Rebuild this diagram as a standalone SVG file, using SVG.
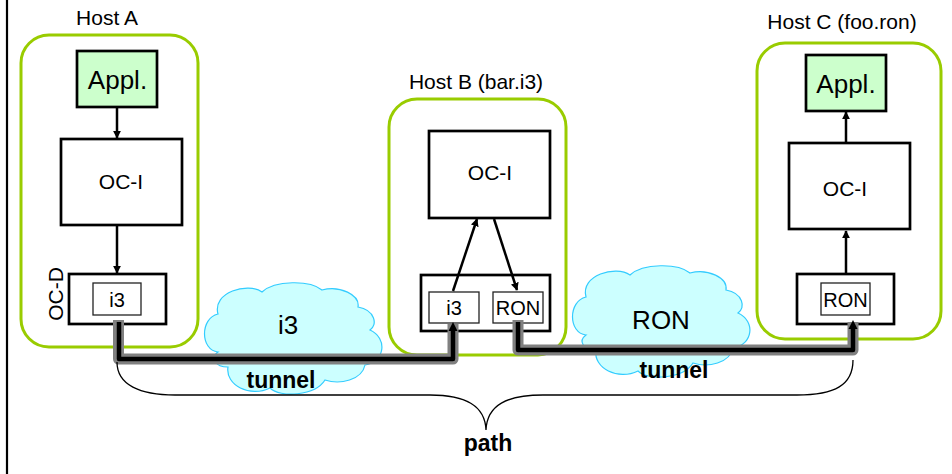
<svg xmlns="http://www.w3.org/2000/svg" width="952" height="474" viewBox="0 0 952 474">
<style>
text{font-family:"Liberation Sans",Arial,sans-serif;fill:#000}
.host{fill:none;stroke:#99cc00;stroke-width:3}
.box{fill:#fff;stroke:#000;stroke-width:2.7}
.app{fill:#ccffcc;stroke:#000;stroke-width:2.7}
.inner{fill:#fff;stroke:#222;stroke-width:1.3}
.cloud{fill:#ccffff;stroke:#33ccff;stroke-width:1.2}
.arrow{fill:none;stroke:#000;stroke-width:2.5}
.tun-o{fill:none;stroke:#808080;stroke-width:11;stroke-linejoin:round}
.tun-i{fill:none;stroke:#000;stroke-width:4.5;stroke-linejoin:round}
.lbl{font-size:21px;text-anchor:middle}
.sm{font-size:20px;text-anchor:middle}
.big{font-size:26px;text-anchor:middle}
.bold{font-size:23px;font-weight:bold;text-anchor:middle}
</style>
<defs>
<marker id="ah" viewBox="0 0 10 10" refX="9" refY="5" markerWidth="3.2" markerHeight="3.2" orient="auto" markerUnits="strokeWidth">
<path d="M0,0 L10,5 L0,10 Z" fill="#000"/>
</marker>
<path id="cloudshape" d="M218,352 C200,350 200,318 218,314 C212,292 248,282 262,292 C275,280 310,280 322,290 C340,285 360,295 358,307 C375,310 378,325 370,330 C388,338 385,362 365,365 C362,380 340,385 325,380 C315,396 280,398 270,388 C250,398 225,385 228,367 C215,367 210,358 218,352 Z"/>
</defs>
<line x1="7" y1="0" x2="7" y2="474" stroke="#000" stroke-width="2.2"/>

<g id="hostA">
<text x="107" y="25" class="lbl">Host A</text>
<rect x="21" y="35" width="177" height="312" rx="28" class="host"/>
</g>
<g id="hostB">
<text x="476" y="89" class="lbl">Host B (bar.i3)</text>
<rect x="389" y="99" width="177" height="256" rx="28" class="host"/>
</g>
<g id="hostC">
<text x="842" y="29" class="lbl">Host C (foo.ron)</text>
<rect x="757" y="43" width="184" height="296" rx="28" class="host"/>
</g>

<g id="applA">
<rect x="77" y="51" width="80" height="56" class="app"/>
<text x="117.5" y="89" class="big">Appl.</text>
</g>
<g id="ociA">
<rect x="61" y="139" width="121" height="86" class="box"/>
<text x="121" y="189" class="lbl">OC-I</text>
</g>
<g id="ocdA">
<rect x="69" y="274" width="97" height="50" class="box"/>
<rect x="93" y="283" width="48" height="32" class="inner"/>
<text x="117" y="307" class="sm">i3</text>
<text transform="translate(63,294) rotate(-90)" x="0" y="0" class="lbl">OC-D</text>
</g>

<g id="ociB">
<rect x="429" y="131" width="121" height="87" class="box"/>
<text x="490" y="180" class="lbl">OC-I</text>
</g>
<g id="ocdB">
<rect x="421" y="275" width="129" height="56" class="box"/>
<rect x="429" y="292" width="50" height="31" class="inner"/>
<text x="454" y="315" class="sm">i3</text>
<rect x="493" y="292" width="50" height="31" class="inner"/>
<text x="518" y="315" class="sm">RON</text>
</g>

<g id="applC">
<rect x="806" y="55" width="80" height="56" class="app"/>
<text x="846" y="93" class="big">Appl.</text>
</g>
<g id="ociC">
<rect x="789" y="143" width="121" height="86" class="box"/>
<text x="845" y="196" class="lbl">OC-I</text>
</g>
<g id="ocdC">
<rect x="797" y="274" width="97" height="50" class="box"/>
<rect x="821" y="283" width="49" height="32" class="inner"/>
<text x="845.5" y="307" class="sm">RON</text>
</g>

<g id="cloudI3">
<use href="#cloudshape" class="cloud"/>
<text x="288" y="334" class="big">i3</text>
</g>
<g id="cloudRON">
<use href="#cloudshape" class="cloud" transform="translate(368,-17)"/>
<text x="661" y="329" class="big">RON</text>
</g>

<g id="connectors">
<line x1="117" y1="108" x2="117" y2="138" class="arrow" marker-end="url(#ah)"/>
<line x1="117" y1="226" x2="117" y2="273" class="arrow" marker-end="url(#ah)"/>
<line x1="453" y1="291" x2="477" y2="219" class="arrow" marker-end="url(#ah)"/>
<line x1="494" y1="219" x2="517" y2="290" class="arrow" marker-end="url(#ah)"/>
<line x1="846" y1="274" x2="846" y2="231" class="arrow" marker-end="url(#ah)"/>
<line x1="846" y1="142" x2="846" y2="112" class="arrow" marker-end="url(#ah)"/>

<path d="M118.5,320 L118.5,359 L453,359 L453,324" class="tun-o"/>
<path d="M119,322 L119,359 L453,359 L453,330" class="tun-i"/>
<polygon points="453,322 448.5,331 457.5,331" fill="#000"/>
<path d="M518,320 L518,350 L853,350 L853,322" class="tun-o"/>
<path d="M518,322 L518,350 L853,350 L853,328" class="tun-i"/>
<polygon points="853,320 848.5,329 857.5,329" fill="#000"/>

<path d="M117,362 C117,385 140,395 175,395 L430,395 C465,395 485,405 486,430 C487,405 507,395 543,395 L797,395 C835,395 853,385 853,360" fill="none" stroke="#000" stroke-width="1.3"/>
</g>

<text x="281" y="388" class="bold">tunnel</text>
<text x="674" y="378" class="bold">tunnel</text>
<text x="488" y="451" class="bold">path</text>
</svg>
